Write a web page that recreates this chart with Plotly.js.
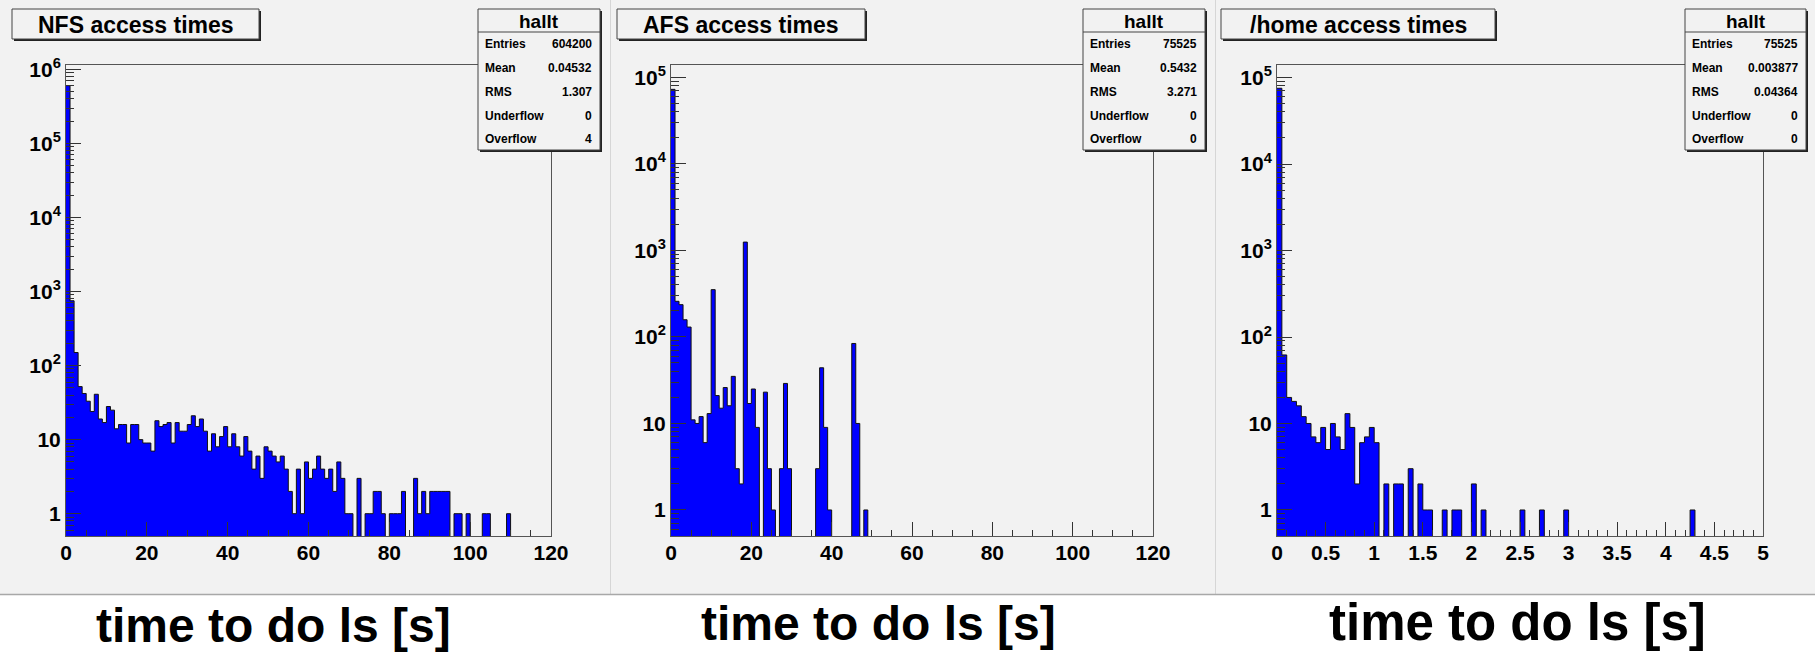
<!DOCTYPE html>
<html><head><meta charset="utf-8">
<script src="https://cdn.plot.ly/plotly-3.0.1.min.js"></script>
<style>html,body{margin:0;padding:0;background:#fff}#chart{width:1815px;height:652px}</style>
</head><body><div id="chart"></div>
<script>
// ---------------- data ----------------
const panelTitles = ['NFS access times', 'AFS access times', '/home access times'];
const statsName = 'hallt';
const statLabels = ['Entries', 'Mean', 'RMS', 'Underflow', 'Overflow'];
const nfsStats = ['604200', '0.04532', '1.307', '0', '4'];
const afsStats = ['75525', '0.5432', '3.271', '0', '0'];
const homeStats = ['75525', '0.003877', '0.04364', '0', '0'];
const xAxisTitle = 'time to do ls [s]';

// histogram binning (lower edge, bin width)
const nfsBinLow = 0, nfsBinWidth = 1;      // 120 bins, 0-120 s
const afsBinLow = 0, afsBinWidth = 1;      // 120 bins, 0-120 s
const homeBinLow = 0, homeBinWidth = 0.05; // 100 bins, 0-5 s

const nfsCounts = [
  602000, 750, 150, 52, 42, 33, 24, 41, 19, 17,
  28, 25, 14, 16, 16, 9, 16, 16, 10, 9,
  9, 7, 18, 15, 16, 17, 9, 17, 13, 13,
  16, 21, 15, 19, 13, 7, 12, 8, 11, 15,
  8, 12, 8, 6, 11, 7, 4, 6, 3, 8,
  7, 6, 5, 6, 4, 2, 1, 4, 1, 5,
  3, 4, 6, 4, 3, 4, 2, 5, 3, 1,
  1, 0, 3, 0, 1, 1, 2, 2, 1, 0,
  1, 1, 1, 2, 0, 0, 3, 1, 2, 1,
  2, 2, 2, 2, 2, 0, 1, 1, 0, 1,
  0, 0, 0, 1, 1, 0, 0, 0, 0, 1,
  0, 0, 0, 0, 0, 0, 0, 0, 0, 0
];
const afsCounts = [
  72700, 258, 236, 158, 130, 11, 10, 12, 6, 13,
  352, 21, 15, 26, 16, 35, 3, 2, 1248, 17,
  25, 9, 0, 23, 3, 1, 0, 3, 29, 3,
  0, 0, 0, 0, 0, 0, 3, 44, 9, 1,
  0, 0, 0, 0, 0, 84, 10, 0, 1, 0,
  0, 0, 0, 0, 0, 0, 0, 0, 0, 0,
  0, 0, 0, 0, 0, 0, 0, 0, 0, 0,
  0, 0, 0, 0, 0, 0, 0, 0, 0, 0,
  0, 0, 0, 0, 0, 0, 0, 0, 0, 0,
  0, 0, 0, 0, 0, 0, 0, 0, 0, 0,
  0, 0, 0, 0, 0, 0, 0, 0, 0, 0,
  0, 0, 0, 0, 0, 0, 0, 0, 0, 0
];
const homeCounts = [
  75200, 62, 20, 18, 16, 12, 10, 7, 6, 9,
  5, 10, 7, 5, 13, 9, 2, 6, 7, 9,
  6, 0, 2, 0, 2, 2, 0, 3, 0, 2,
  1, 1, 0, 0, 1, 0, 1, 1, 0, 0,
  2, 0, 1, 0, 0, 0, 0, 0, 0, 0,
  1, 0, 0, 0, 1, 0, 0, 0, 0, 1,
  0, 0, 0, 0, 0, 0, 0, 0, 0, 0,
  0, 0, 0, 0, 0, 0, 0, 0, 0, 0,
  0, 0, 0, 0, 0, 1, 0, 0, 0, 0,
  0, 0, 0, 0, 0, 0, 0, 0, 0, 0
];

const yTickVals6 = [1, 10, 100, 1000, 10000, 100000, 1000000];
const yTickText6 = ['1', '10', '10<sup>2</sup>', '10<sup>3</sup>', '10<sup>4</sup>', '10<sup>5</sup>', '10<sup>6</sup>'];
const yTickVals5 = [1, 10, 100, 1000, 10000, 100000];
const yTickText5 = ['1', '10', '10<sup>2</sup>', '10<sup>3</sup>', '10<sup>4</sup>', '10<sup>5</sup>'];

// ---------------- layout helpers ----------------
const W = 1815, H = 652;
const FONT = '"Liberation Sans", Arial, Helvetica, sans-serif';
const fx = p => p / W;
const fy = p => 1 - p / H;

function minorLogVals(maxExp) {
  const v = [0.6, 0.7, 0.8, 0.9];
  for (let e = 0; e <= maxExp; e++) for (let m = 2; m <= 9; m++) v.push(m * Math.pow(10, e));
  return v;
}

function stepTrace(counts, lo, w, xa, ya) {
  const floorVal = 0.01; // below the visible log range: empty bins drop to the baseline
  const x = [], y = [];
  counts.forEach((c, i) => { x.push(lo + i * w); y.push(c > 0 ? c : floorVal); });
  x.push(lo + counts.length * w); y.push(floorVal);
  return {
    type: 'scatter', mode: 'lines', x: x, y: y, xaxis: xa, yaxis: ya,
    line: { shape: 'hv', color: '#111111', width: 1 },
    fill: 'tozeroy', fillcolor: '#0000ff',
    hoverinfo: 'skip', showlegend: false
  };
}

const panels = [
  { px0: 0, px1: 610, plot: [66, 551], title: [12, 259], stats: [478, 600],
    counts: nfsCounts, lo: nfsBinLow, w: nfsBinWidth, stats_v: nfsStats,
    xrange: [0, 120], dtick: 20, minor: 5, yrange: [Math.log10(0.5), 6.058],
    tv: yTickVals6, tt: yTickText6, maxExp: 6, xt: [273, 625, 48] },
  { px0: 611, px1: 1215, plot: [671, 1153], title: [617, 865], stats: [1083, 1205],
    counts: afsCounts, lo: afsBinLow, w: afsBinWidth, stats_v: afsStats,
    xrange: [0, 120], dtick: 20, minor: 5, yrange: [Math.log10(0.5), 5.143],
    tv: yTickVals5, tt: yTickText5, maxExp: 5, xt: [878, 623, 48] },
  { px0: 1216, px1: 1815, plot: [1277, 1763], title: [1221, 1495], stats: [1685, 1806],
    counts: homeCounts, lo: homeBinLow, w: homeBinWidth, stats_v: homeStats,
    xrange: [0, 5], dtick: 0.5, minor: 0.1, yrange: [Math.log10(0.5), 5.145],
    tv: yTickVals5, tt: yTickText5, maxExp: 5, xt: [1517, 622.5, 51] }
];

const PLOT_TOP = 65, PLOT_BOT = 536, PANEL_BOT = 594;
const BOX_TOP = 9, TITLE_BOT = 39, STATS_BOT = 150, STATS_HDR = 32;
const rowY = [44, 68, 92, 116, 139];

const traces = [];
const shapes = [];
const annotations = [];
const layout = {
  width: W, height: H, autosize: false,
  margin: { l: 0, r: 0, t: 0, b: 0, pad: 0 },
  paper_bgcolor: '#ffffff', plot_bgcolor: '#f2f2f2',
  showlegend: false,
  font: { family: FONT, color: '#000' }
};

function rect(x0, y0, x1, y1, fill, lineColor, lw, layer) {
  shapes.push({ type: 'rect', xref: 'paper', yref: 'paper', x0: fx(x0), x1: fx(x1), y0: fy(y1), y1: fy(y0),
    fillcolor: fill, line: { color: lineColor || fill, width: lw || 0 }, layer: layer || 'above' });
}
function line(x0, y0, x1, y1, color, lw, layer) {
  shapes.push({ type: 'line', xref: 'paper', yref: 'paper', x0: fx(x0), x1: fx(x1), y0: fy(y0), y1: fy(y1),
    line: { color: color, width: lw }, layer: layer || 'above' });
}
function text(t, x, y, size, xanchor) {
  annotations.push({ text: '<b>' + t + '</b>', xref: 'paper', yref: 'paper', x: fx(x), y: fy(y),
    xanchor: xanchor || 'center', yanchor: 'middle', showarrow: false,
    font: { family: FONT, size: size, color: '#000' } });
}

panels.forEach((p, i) => {
  const sfx = i === 0 ? '' : String(i + 1);
  const xa = 'x' + sfx, ya = 'y' + sfx;
  traces.push(stepTrace(p.counts, p.lo, p.w, xa, ya));

  layout['xaxis' + sfx] = {
    domain: [fx(p.plot[0]), fx(p.plot[1])], range: p.xrange, anchor: ya,
    tickmode: 'linear', tick0: 0, dtick: p.dtick,
    ticks: 'inside', ticklen: 14, tickwidth: 1, tickcolor: '#333',
    minor: { ticks: 'inside', ticklen: 6, dtick: p.minor, tick0: 0, tickcolor: '#333', tickwidth: 1 },
    showline: true, linecolor: '#555', linewidth: 1, mirror: true,
    showgrid: false, zeroline: false, fixedrange: true,
    ticklabelstandoff: -2,
    tickfont: { family: FONT, size: 21, color: '#000', weight: 'bold' }
  };
  layout['yaxis' + sfx] = {
    type: 'log', domain: [fy(PLOT_BOT), fy(PLOT_TOP)], range: p.yrange, anchor: xa,
    tickmode: 'array', tickvals: p.tv, ticktext: p.tt,
    ticks: 'inside', ticklen: 15, tickwidth: 1, tickcolor: '#333',
    minor: { ticks: 'inside', ticklen: 8, tickmode: 'array', tickvals: minorLogVals(p.maxExp), tickcolor: '#333', tickwidth: 1 },
    showline: true, linecolor: '#555', linewidth: 1, mirror: true,
    showgrid: false, zeroline: false, fixedrange: true,
    ticklabelstandoff: 0,
    tickfont: { family: FONT, size: 21, color: '#000', weight: 'bold' }
  };

  // canvas background
  rect(p.px0, 0, p.px1, PANEL_BOT, '#f2f2f2', null, 0, 'below');

  // title pave with shadow
  rect(p.title[0] + 2, BOX_TOP + 2, p.title[1] + 2, TITLE_BOT + 2, '#222222');
  rect(p.title[0], BOX_TOP, p.title[1], TITLE_BOT, '#f2f2f2', '#444444', 1);
  text(panelTitles[i], (p.title[0] + p.title[1]) / 2, (BOX_TOP + TITLE_BOT) / 2 + 1, 23);

  // stats box with shadow
  rect(p.stats[0] + 2, BOX_TOP + 2, p.stats[1] + 2, STATS_BOT + 2, '#222222');
  rect(p.stats[0], BOX_TOP, p.stats[1], STATS_BOT, '#f2f2f2', '#444444', 1);
  line(p.stats[0], STATS_HDR, p.stats[1], STATS_HDR, '#444444', 1);
  text(statsName, (p.stats[0] + p.stats[1]) / 2, (BOX_TOP + STATS_HDR) / 2 + 1, 19);
  statLabels.forEach((lab, k) => {
    text(lab, p.stats[0] + 5, rowY[k], 12, 'left');
    text(p.stats_v[k], p.stats[1] - 6, rowY[k], 12, 'right');
  });

  // x axis title below the canvas
  text(xAxisTitle, p.xt[0], p.xt[1], p.xt[2]);
});

// canvas separators and bottom edge
line(610.5, 0, 610.5, PANEL_BOT, '#d6d6d6', 1, 'below');
line(1215.5, 0, 1215.5, PANEL_BOT, '#d6d6d6', 1, 'below');
line(0, PANEL_BOT + 0.5, W, PANEL_BOT + 0.5, '#a8a8a8', 1.5, 'below');

layout.shapes = shapes;
layout.annotations = annotations;

Plotly.newPlot('chart', traces, layout, { staticPlot: true, displayModeBar: false });
</script>
</body></html>
